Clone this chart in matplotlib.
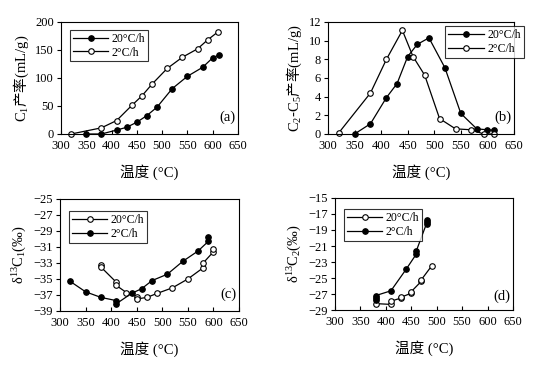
import matplotlib
matplotlib.use("Agg")
import matplotlib.pyplot as plt

plt.rcParams["font.family"] = ["Liberation Serif", "Noto Sans CJK SC"]
plt.rcParams["mathtext.fontset"] = "custom"
plt.rcParams["mathtext.rm"] = "Liberation Serif"
plt.rcParams["mathtext.it"] = "Liberation Serif:italic"
plt.rcParams["axes.linewidth"] = 0.8

# (a) C1 yield
a_fast_t = [350, 380, 410, 430, 450, 470, 490, 520, 550, 580, 600, 612]
a_fast_y = [0, 0, 7, 12, 21, 33, 48, 81, 103, 119, 136, 141]
a_slow_t = [320, 380, 410, 440, 460, 480, 510, 540, 570, 590, 610]
a_slow_y = [0, 11, 24, 51, 68, 89, 117, 137, 152, 168, 182]

# (b) C2-C5 yield
b_fast_t = [350, 380, 410, 430, 450, 468, 490, 520, 550, 580, 600, 613]
b_fast_y = [0, 1.1, 3.9, 5.4, 8.3, 9.6, 10.3, 7.1, 2.2, 0.55, 0.45, 0.4]
b_slow_t = [320, 380, 410, 440, 460, 482, 510, 540, 570, 593, 613]
b_slow_y = [0.1, 4.4, 8.0, 11.1, 8.3, 6.3, 1.65, 0.55, 0.45, 0, 0]

# (c) delta13C1
c_fast_t = [380, 380, 410, 410, 430, 450, 450, 470, 490, 520, 550, 580, 580, 600, 600]
c_fast_y = [-33.3, -33.5, -35.4, -35.8, -36.7, -37.2, -37.5, -37.3, -36.8, -36.1, -35.0,
            -33.6, -33.0, -31.6, -31.3]
c_slow_t = [320, 350, 380, 410, 410, 440, 460, 480, 510, 540, 570, 590, 590]
c_slow_y = [-35.3, -36.6, -37.3, -37.7, -38.1, -36.8, -36.2, -35.2, -34.4, -32.8, -31.5,
            -30.3, -29.8]

# (d) delta13C2
d_fast_t = [380, 410, 410, 430, 430, 450, 450, 470, 470, 490]
d_fast_y = [-28.2, -28.3, -27.9, -27.5, -27.4, -26.9, -26.7, -25.4, -25.2, -23.5]
d_slow_t = [380, 380, 380, 410, 440, 460, 460, 480, 480, 480]
d_slow_y = [-27.7, -27.5, -27.2, -26.6, -23.9, -22.0, -21.6, -18.2, -18.0, -17.8]

xticks = [300, 350, 400, 450, 500, 550, 600, 650]
xlabel = "温度 (°C)"
fs = 9


def style(ax, ylim, yticks, ylabel, tag, tag_y):
    ax.set_xlim(300, 650)
    ax.set_xticks(xticks)
    ax.set_ylim(*ylim)
    ax.set_yticks(yticks)
    ax.tick_params(axis="x", direction="in", length=3, labelsize=fs, pad=4)
    ax.tick_params(axis="y", direction="out", length=3, labelsize=fs, pad=2)
    ax.set_xlabel(xlabel, fontsize=10.5, labelpad=9)
    ax.set_ylabel(ylabel, fontsize=10.5, family="Noto Sans CJK SC", labelpad=3)
    ax.text(0.94, tag_y, tag, transform=ax.transAxes, fontsize=10.5,
            ha="center", va="center")


def series(ax, t, y, filled, label):
    ax.plot(t, y, color="black", lw=0.9, marker="o", ms=4,
            mfc="black" if filled else "white", mec="black", mew=0.8,
            label=label, clip_on=False)


def legend(ax, loc):
    leg = ax.legend(loc="upper left", bbox_to_anchor=loc, fontsize=8.5,
                    frameon=True, fancybox=False, handlelength=3.0,
                    handletextpad=0.3, borderpad=0.25, labelspacing=0.15,
                    borderaxespad=0)
    leg.get_frame().set_edgecolor("black")
    leg.get_frame().set_linewidth(0.8)


fig = plt.figure(figsize=(5.56, 3.67), dpi=100)
ax_a = fig.add_axes([0.1097, 0.6349, 0.3183, 0.3052])
ax_b = fig.add_axes([0.5899, 0.6349, 0.3345, 0.3052])
ax_c = fig.add_axes([0.1079, 0.1526, 0.3219, 0.3052])
ax_d = fig.add_axes([0.6025, 0.1553, 0.3201, 0.3052])

series(ax_a, a_fast_t, a_fast_y, True, "20°C/h")
series(ax_a, a_slow_t, a_slow_y, False, "2°C/h")
style(ax_a, (0, 200), [0, 50, 100, 150, 200], r"$\mathrm{C_1}$产率$\mathrm{(mL/g)}$",
      "(a)", 0.15)
legend(ax_a, (0.05, 0.93))

series(ax_b, b_fast_t, b_fast_y, True, "20°C/h")
series(ax_b, b_slow_t, b_slow_y, False, "2°C/h")
style(ax_b, (0, 12), [0, 2, 4, 6, 8, 10, 12],
      r"$\mathrm{C_2}$-$\mathrm{C_5}$产率$\mathrm{(mL/g)}$", "(b)", 0.15)
legend(ax_b, (0.63, 0.96))

series(ax_c, c_fast_t, c_fast_y, False, "20°C/h")
series(ax_c, c_slow_t, c_slow_y, True, "2°C/h")
style(ax_c, (-39, -25), [-39, -37, -35, -33, -31, -29, -27, -25],
      r"$\mathrm{δ^{13}C_1(‰)}$", "(c)", 0.15)
legend(ax_c, (0.05, 0.89))

series(ax_d, d_fast_t, d_fast_y, False, "20°C/h")
series(ax_d, d_slow_t, d_slow_y, True, "2°C/h")
style(ax_d, (-29, -15), [-29, -27, -25, -23, -21, -19, -17, -15],
      r"$\mathrm{δ^{13}C_2(‰)}$", "(d)", 0.12)
legend(ax_d, (0.05, 0.9))

fig.savefig("out.png", dpi=100)
